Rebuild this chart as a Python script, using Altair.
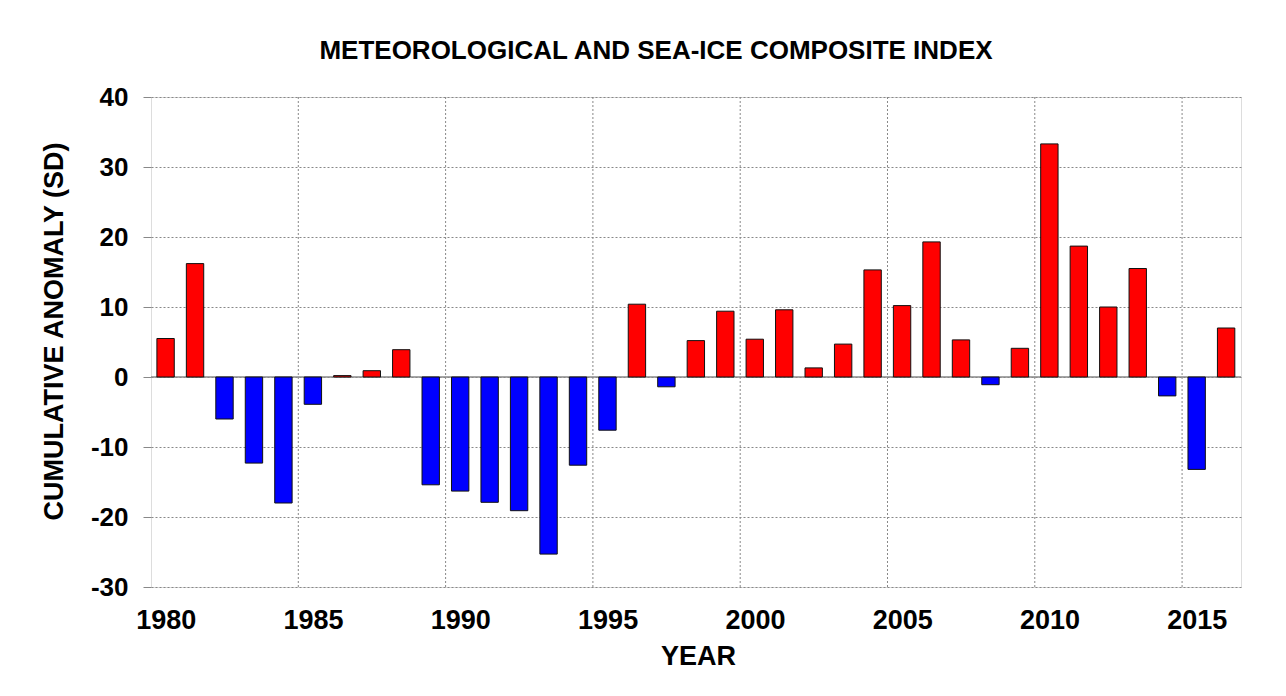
import altair as alt
import pandas as pd

years = list(range(1980, 2017))
values = [5.5, 16.2, -6.0, -12.3, -18.0, -3.9, 0.2, 0.9, 3.9, -15.4,
          -16.3, -17.9, -19.1, -25.3, -12.6, -7.6, 10.4, -1.4, 5.2, 9.4,
          5.4, 9.6, 1.3, 4.7, 15.3, 10.2, 19.3, 5.3, -1.1, 4.1,
          33.3, 18.7, 10.0, 15.5, -2.7, -13.2, 7.0]
grid_years = [1985, 1990, 1995, 2000, 2005, 2010, 2015]
label_years = [1980, 1985, 1990, 1995, 2000, 2005, 2010, 2015]
y_ticks = [-30, -20, -10, 0, 10, 20, 30, 40]

df = pd.DataFrame({"year": years, "value": values})
grid_df = pd.DataFrame({"g": grid_years})
zero_df = pd.DataFrame({"z": [0]})

FONT = "Liberation Sans"

xscale = alt.Scale(domain=[1980, 2017], nice=False, zero=False)
yscale = alt.Scale(domain=[-30, 40], nice=False)

bars = alt.Chart(df).transform_calculate(
    x0="datum.year + 0.2", x1="datum.year + 0.79"
).mark_bar(stroke="#111111", strokeWidth=1).encode(
    x=alt.X("x0:Q", scale=xscale,
            axis=alt.Axis(values=[y + 0.5 for y in label_years],
                          labelExpr="'' + floor(datum.value)",
                          grid=False, ticks=False, domain=False,
                          labelFont=FONT, labelFontSize=27, labelFontWeight="bold",
                          labelColor="black", labelPadding=20,
                          title="YEAR", titleFont=FONT, titleFontSize=27,
                          titleFontWeight="bold", titleColor="black",
                          titleX=547, titleY=69, titleBaseline="middle",
                          titleAlign="center")),
    x2="x1:Q",
    y=alt.Y("value:Q", scale=yscale,
            axis=alt.Axis(values=y_ticks, grid=True, gridDash=[2, 2],
                          gridColor="#888888", gridWidth=1,
                          ticks=True, tickSize=8, tickColor="#888888",
                          domain=False,
                          labelExpr="'' + datum.value",
                          labelFont=FONT, labelFontSize=26, labelFontWeight="bold",
                          labelColor="black", labelPadding=15,
                          title="CUMULATIVE ANOMALY (SD)", titleFont=FONT,
                          titleFontSize=27, titleFontWeight="bold",
                          titleColor="black", titleX=-97, titleY=234,
                          titleAngle=-90, titleAlign="center",
                          titleBaseline="middle")),
    y2=alt.datum(0),
    color=alt.condition(alt.datum.value >= 0, alt.value("#FF0000"), alt.value("#0000FF")),
)

vgrid = alt.Chart(grid_df).mark_rule(color="#888888", strokeWidth=1, strokeDash=[2, 2]).encode(
    x=alt.X("g:Q", scale=xscale)
)

zero = alt.Chart(zero_df).mark_rule(color="#888888", strokeWidth=1.5).encode(
    y=alt.Y("z:Q", scale=yscale)
)

chart = alt.layer(vgrid, zero, bars).properties(
    width=1090, height=490,
    autosize=alt.AutoSizeParams(type="none"),
    padding={"left": 143, "top": 89, "right": 30, "bottom": 90},
    title=alt.TitleParams("METEOROLOGICAL AND SEA-ICE COMPOSITE INDEX",
                          font=FONT, fontSize=26, fontWeight="bold", color="black",
                          anchor="middle", frame="group", baseline="alphabetic",
                          offset=4, dx=-40, dy=5),
).configure_view(stroke="#555555", strokeWidth=2).configure(background="white")

chart.save("out.html", embed_options={"renderer": "svg", "actions": False})
